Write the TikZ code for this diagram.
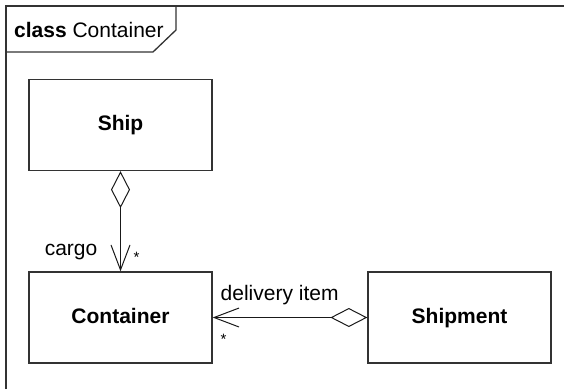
\documentclass[tikz,border=0pt]{standalone}
\usepackage{fontspec}
\setmainfont{Liberation Sans}
\usepackage{tikz}
\usetikzlibrary{arrows.meta,positioning,calc}

\begin{document}
\begin{tikzpicture}[x=1pt,y=-1pt,
classbox/.style={rectangle,draw=black!80,line width=1.3pt,minimum width=183pt,
minimum height=91pt,font=\fontsize{21}{24}\selectfont\bfseries,inner sep=0pt,
text height=15pt,text depth=4pt},
assoc/.style={draw=black!90,line width=1pt,
{Diamond[open,length=37pt,width=19pt,line width=1pt]}-{Straight Barb[length=25pt,width=19pt,line width=1pt]}},
lbl/.style={font=\fontsize{21}{24}\selectfont,inner sep=0pt},
mult/.style={font=\fontsize{15}{18}\selectfont,inner sep=0pt}]
\useasboundingbox (0,0) rectangle (564,389);
% frame
\draw[black!80,line width=1.3pt] (6,389) -- (6,6) -- (564,6);
\draw[black!80,line width=1.3pt] (6,52) -- (153,52) -- (176,30) -- (176,6);
\node[lbl,anchor=west] (frame) at (14,30) {\textbf{class} Container};
% classes
\node[classbox] (ship) at (120.5,125) {Ship};
\node[classbox] (container) at (120.5,317.5) {Container};
\node[classbox] (shipment) at (459.5,317.5) {Shipment};
% associations
\draw[assoc] (ship) -- (container);
\draw[assoc] (shipment) -- (container);
\node[lbl,anchor=east] (cargo) at ($(container.north)+(-23,-19)$) {cargo};
\node[mult] (cargomult) at ($(container.north)+(16,-14)$) {*};
\node[lbl] (item) at ($(container.east)+(67,-22)$) {delivery item};
\node[mult] (itemmult) at ($(container.east)+(11,22)$) {*};
\end{tikzpicture}
\end{document}
